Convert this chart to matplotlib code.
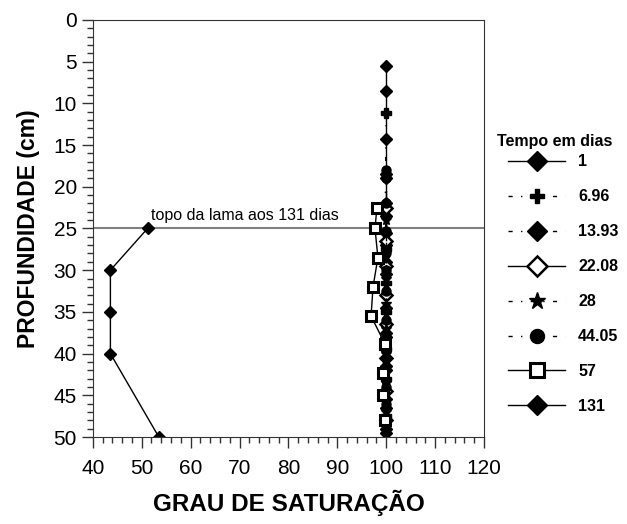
import matplotlib
matplotlib.use("Agg")
import matplotlib.pyplot as plt
from matplotlib.ticker import MultipleLocator

plt.rcParams["font.family"] = ["Liberation Sans", "DejaVu Sans"]

# tempo em dias (legenda)
dias = ["1", "6.96", "13.93", "22.08", "28", "44.05", "57", "131"]

# grau de saturação (%) e profundidade (cm) por série
sat_1 = [100.0, 100.0, 100.0, 100.0, 100.0, 100.0, 100.0, 100.0, 100.0, 100.0, 100.0, 100.0]
prof_1 = [5.5, 8.5, 14.3, 18.5, 22.0, 25.5, 29.0, 33.0, 37.5, 41.5, 45.5, 49.5]

sat_696 = [100.0, 99.8, 100.0, 100.0, 100.0, 99.9, 100.0, 100.0]
prof_696 = [11.1, 22.5, 27.5, 31.5, 35.0, 39.5, 43.0, 47.5]

sat_1393 = [100.0, 100.0, 100.0, 100.0, 100.0, 100.0, 100.0, 100.0, 100.0]
prof_1393 = [19.0, 23.5, 27.0, 30.5, 34.5, 38.0, 42.0, 46.5, 49.0]

sat_2208 = [100.0, 100.0, 100.0, 100.0, 100.0, 100.0, 100.0, 100.0]
prof_2208 = [22.5, 26.5, 29.5, 33.0, 36.5, 40.5, 44.5, 48.0]

sat_28 = [100.0, 100.0, 100.0, 100.0, 100.0, 100.0, 100.0, 100.0]
prof_28 = [24.0, 28.0, 31.0, 34.0, 37.0, 40.0, 43.5, 47.0]

sat_4405 = [100.0, 100.0, 100.0, 100.0, 100.0, 100.0, 100.0, 100.0, 100.0, 100.0, 100.0, 100.0, 100.0]
prof_4405 = [18.0, 19.0, 22.0, 25.3, 28.0, 30.0, 32.5, 36.0, 38.0, 40.5, 44.0, 46.0, 48.5]

sat_57 = [98.1, 97.7, 98.3, 97.3, 96.9, 99.7, 99.3, 99.3, 99.7]
prof_57 = [22.5, 25.0, 28.5, 32.0, 35.5, 38.8, 42.3, 45.0, 48.0]

sat_131 = [51.2, 43.6, 43.6, 43.6, 53.5]
prof_131 = [25.0, 30.0, 35.0, 40.0, 50.0]

topo_lama = 25.0

fig = plt.figure(figsize=(6.27, 5.24), dpi=100)
ax = fig.add_axes([0.148, 0.166, 0.624, 0.796])

dashdot = (0, (3, 6, 1, 6))
series = [
    (sat_1, prof_1, dias[0], dict(marker="D", mfc="black", ls="-")),
    (sat_696, prof_696, dias[1], dict(marker="P", mfc="black", ls=dashdot)),
    (sat_1393, prof_1393, dias[2], dict(marker="D", mfc="black", ls=dashdot)),
    (sat_2208, prof_2208, dias[3], dict(marker="D", mfc="white", ls="-", mew=1.8)),
    (sat_28, prof_28, dias[4], dict(marker="*", mfc="black", ls=dashdot)),
    (sat_4405, prof_4405, dias[5], dict(marker="o", mfc="black", ls=dashdot)),
    (sat_57, prof_57, dias[6], dict(marker="s", mfc="white", ls="-", mew=2.2)),
    (sat_131, prof_131, dias[7], dict(marker="D", mfc="black", ls="-")),
]
handles = []
for x, y, lab, kw in series:
    ms = 6.5 if kw["marker"] != "*" else 8
    h, = ax.plot(x, y, color="black", mec="black", lw=1.0, ms=ms, label=lab, **kw)
    handles.append(h)

ax.axhline(topo_lama, color="#808080", lw=1.5, zorder=1)
ax.text(52, 24.3, "topo da lama aos 131 dias", fontsize=11.5, va="bottom", ha="left")

ax.set_xlim(40, 120)
ax.set_ylim(50, 0)
ax.xaxis.set_major_locator(MultipleLocator(10))
ax.xaxis.set_minor_locator(MultipleLocator(2))
ax.yaxis.set_major_locator(MultipleLocator(5))
ax.yaxis.set_minor_locator(MultipleLocator(1))
ax.tick_params(which="major", direction="out", length=8, width=1, labelsize=15, color="#333333")
ax.tick_params(which="minor", direction="out", length=4.5, width=1, color="#333333")
ax.tick_params(axis="x", pad=8)
for s in ax.spines.values():
    s.set_color("#333333")

ax.set_xlabel("GRAU DE SATURAÇÃO", fontsize=17.5, fontweight="bold", labelpad=8)
ax.set_ylabel("PROFUNDIDADE (cm)", fontsize=16.5, fontweight="bold", labelpad=10)

fig.text(0.793, 0.73, "Tempo em dias", fontsize=11.5, fontweight="bold", ha="left", va="center")
leg = fig.legend(handles=handles, loc="upper left", bbox_to_anchor=(0.787, 0.733),
                 frameon=False, markerscale=1.55,
                 handlelength=3.6, labelspacing=1.25, prop={"weight": "bold", "size": 11.5})

fig.savefig("out.png", dpi=100)
